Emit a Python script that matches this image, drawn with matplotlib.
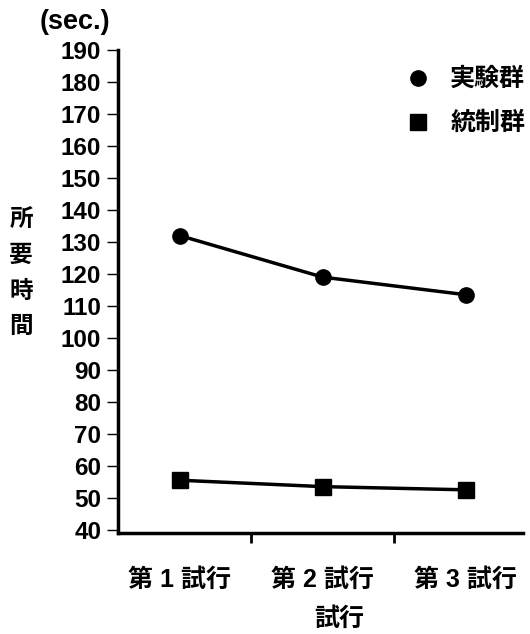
import matplotlib
matplotlib.use("Agg")
import matplotlib.pyplot as plt

# data
trials = ["第 1 試行", "第 2 試行", "第 3 試行"]
experimental = [132, 119, 113.5]
control = [55.5, 53.5, 52.5]
yticks = list(range(40, 200, 10))

FAM = ["Liberation Sans", "Noto Sans CJK JP", "DejaVu Sans"]


def main():
    plt.rcParams["font.family"] = FAM
    plt.rcParams["font.weight"] = "bold"

    fig = plt.figure(figsize=(5.30, 6.34), dpi=100)
    ax = fig.add_axes([0.2226, 0.1593, 0.7642, 0.7618])

    x = list(range(len(trials)))
    ax.plot(x, experimental, color="black", lw=2.5, marker="o", ms=11,
            label="実験群")
    ax.plot(x, control, color="black", lw=2.5, marker="s", ms=11,
            label="統制群")

    ax.set_xlim(-0.43, 2.4)
    ax.set_ylim(39, 190)

    ax.spines["top"].set_visible(False)
    ax.spines["right"].set_visible(False)
    ax.spines["left"].set_linewidth(2.5)
    ax.spines["bottom"].set_linewidth(2.5)

    ax.set_yticks(yticks)
    ax.set_yticklabels([str(v) for v in yticks], fontsize=17.5, fontweight="bold")
    ax.tick_params(axis="y", length=8, width=1, pad=4)

    # tick marks sit between categories, labels under each category
    ax.set_xticks([0.5, 1.5])
    ax.set_xticklabels([])
    ax.set_xticks(x, minor=True)
    ax.set_xticklabels(trials, minor=True, fontsize=18, fontweight="bold")
    ax.tick_params(axis="x", which="major", length=7, width=2)
    ax.tick_params(axis="x", which="minor", length=0, pad=25)

    ax.set_xlabel("試行", fontsize=18, fontweight="bold")
    ax.xaxis.set_label_coords(0.546, -0.153)

    fig.text(0.075, 0.965, "sec.".join("()"), fontsize=19.5, fontweight="bold",
             va="center", ha="left")
    fig.text(0.040, 0.569, "\n".join("所要時間"), fontsize=17,
             fontweight="bold", va="center", ha="center", linespacing=1.7)

    leg = ax.legend(loc="upper right", frameon=False, fontsize=18,
                    handlelength=1.0, handletextpad=0.8, labelspacing=0.8,
                    borderaxespad=0.0, bbox_to_anchor=(1.03, 0.985))
    for line in leg.get_lines():
        line.set_linestyle("none")
    for t in leg.get_texts():
        t.set_fontweight("bold")

    fig.savefig("out.png", dpi=100)


if __name__ == "__main__":
    main()
